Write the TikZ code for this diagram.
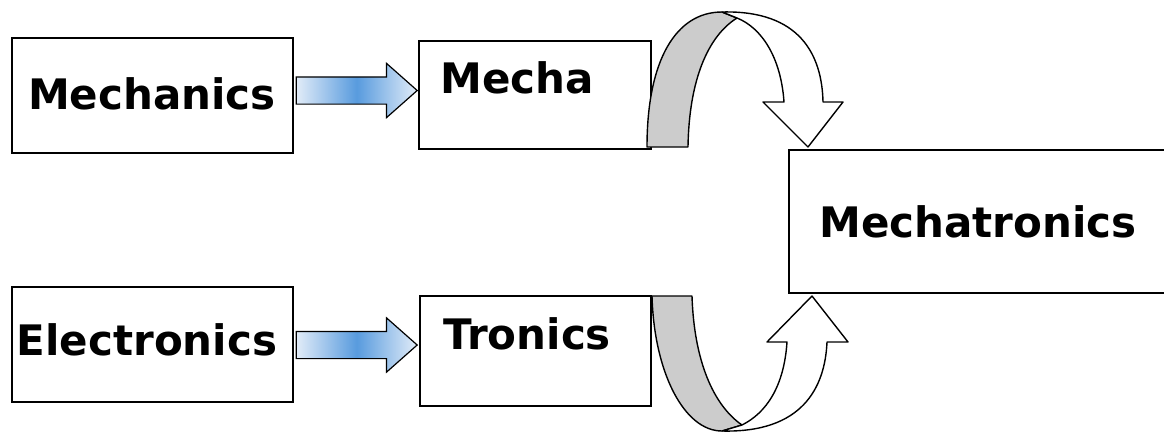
\documentclass[tikz,border=0pt]{standalone}
\usepackage{fontspec}
\setmainfont{DejaVu Sans}
\usetikzlibrary{positioning, calc}
\usetikzlibrary{shapes.arrows}

\begin{document}
\begin{tikzpicture}
    [x=1pt, y=-1pt,
    box/.style={draw, line width=1.8pt, inner sep=0pt},
    word/.style={font=\fontsize{42}{50}\selectfont\bfseries, inner sep=0pt, anchor=base},
    fat/.style={single arrow, draw, line width=1.2pt, inner sep=0pt, text height=13pt, text depth=13pt,
        minimum height=121, single arrow head extend=13.5, single arrow tip angle=83,
        left color=paleblue, right color=paleblue, middle color=midblue},
    band/.style={draw, line width=1.4pt, line join=round}]
    \definecolor{paleblue}{RGB}{226,236,248};
    \definecolor{midblue}{RGB}{88,155,222};
    \useasboundingbox (0,0) rectangle (1164,432);
    % boxes
    \node [box, minimum width=281, minimum height=115] (MechBox) at (152.5,95.5) {};
    \node [box, minimum width=232, minimum height=108] (MechaBox) at (535,95) {};
    \node [box, minimum width=281, minimum height=115] (ElecBox) at (152.5,344.5) {};
    \node [box, minimum width=231, minimum height=110] (TronBox) at (535.5,351) {};
    \node [box, minimum width=401, minimum height=143] (MtronBox) at (989.5,221.5) {};
    % words
    \node [word] (Mech) at (152,109) {Mechanics};
    \node [word] (Mecha) at (517,93) {Mecha};
    \node [word] (Elec) at (147,355) {Electronics};
    \node [word] (Tron) at (527,349) {Tronics};
    \node [word] (Mtron) at (978,237) {Mechatronics};
    % fat arrows
    \node [fat] (MechArrow) at (349,90.5) {};
    \node [fat] (ElecArrow) at (349,345) {};
    % upper curved arrow
    \path [band, fill=black!20] (647,147) .. controls (647,60) and (676,12) .. (722,12)
        -- (737,18) .. controls (708,36) and (689,80) .. (688,147) -- cycle;
    \path [band, fill=white] (722,12) .. controls (800,10) and (822,55) .. (823,102)
        -- (843,102) -- (808,147) -- (763,102) -- (784,102)
        .. controls (781,58) and (762,28) .. (737,18) -- cycle;
    % lower curved arrow
    \path [band, fill=black!20] (652,296) .. controls (654,372) and (684,431) .. (722,431)
        -- (742,425) .. controls (713,405) and (694,360) .. (692,296) -- cycle;
    \path [band, fill=white] (722,431) .. controls (802,433) and (825,388) .. (827,342)
        -- (848,342) -- (812,296) -- (767,342) -- (787,342)
        .. controls (784,387) and (766,413) .. (742,425) -- cycle;
\end{tikzpicture}
\end{document}
